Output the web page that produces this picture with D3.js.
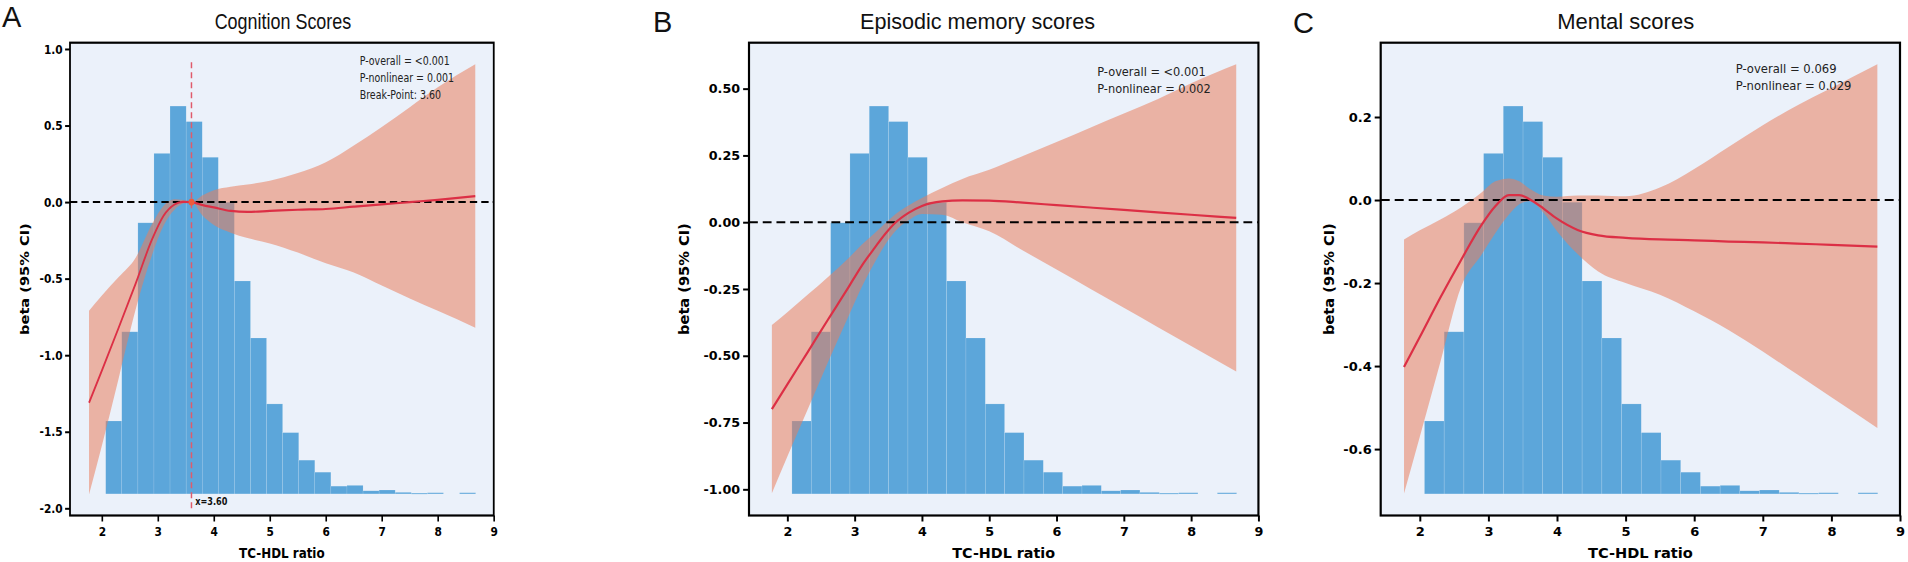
<!DOCTYPE html>
<html>
<head>
<meta charset="utf-8">
<script src="https://cdn.jsdelivr.net/npm/d3@7.9.0/dist/d3.min.js"></script>
<style>
  html, body { margin: 0; padding: 0; background: #fff; }
  svg { display: block; }
</style>
</head>
<body>
<svg id="chart" width="1908" height="562"></svg>
<script>
// --- DATA ---
const xGrid = [1.77, 2.0, 2.3, 2.6, 2.9, 3.1, 3.3, 3.45, 3.6, 3.8, 4.0, 4.3, 4.6, 5.0, 5.5, 6.0, 6.5, 7.0, 7.5, 8.0, 8.67];

const cognitionLine  = [-1.31, -1.10, -0.82, -0.535, -0.24, -0.09, -0.015, 0.002, 0, -0.02, -0.035, -0.058, -0.064, -0.058, -0.05, -0.045, -0.03, -0.015, 0.0, 0.015, 0.039];
const cognitionUpper = [-0.71, -0.61, -0.49, -0.365, -0.14, -0.025, 0.018, 0.014, 0, 0.045, 0.078, 0.10, 0.115, 0.14, 0.19, 0.26, 0.37, 0.49, 0.62, 0.75, 0.90];
const cognitionLower = [-1.91, -1.59, -1.15, -0.705, -0.34, -0.155, -0.048, -0.01, 0, -0.09, -0.15, -0.20, -0.235, -0.27, -0.33, -0.40, -0.46, -0.545, -0.63, -0.71, -0.82];

const episodicLine  = [-0.70, -0.607, -0.487, -0.366, -0.247, -0.165, -0.095, -0.045, -0.003, 0.035, 0.061, 0.078, 0.082, 0.081, 0.073, 0.064, 0.055, 0.046, 0.037, 0.028, 0.016];
const episodicUpper = [-0.385, -0.337, -0.272, -0.206, -0.137, -0.085, -0.04, -0.005, 0.029, 0.063, 0.091, 0.128, 0.162, 0.196, 0.248, 0.30, 0.354, 0.407, 0.46, 0.52, 0.591];
const episodicLower = [-1.015, -0.877, -0.702, -0.526, -0.357, -0.245, -0.15, -0.085, -0.035, 0.007, 0.031, 0.028, 0.0, -0.034, -0.106, -0.177, -0.249, -0.32, -0.392, -0.463, -0.559];

const mentalLine  = [-0.402, -0.33, -0.235, -0.145, -0.06, -0.015, 0.012, 0.012, 0.002, -0.02, -0.045, -0.072, -0.085, -0.091, -0.095, -0.097, -0.10, -0.102, -0.105, -0.108, -0.1125];
const mentalUpper = [-0.095, -0.073, -0.047, -0.018, 0.018, 0.045, 0.052, 0.045, 0.027, 0.011, 0.008, 0.011, 0.011, 0.009, 0.03, 0.075, 0.128, 0.18, 0.228, 0.27, 0.327];
const mentalLower = [-0.707, -0.57, -0.39, -0.21, -0.132, -0.08, -0.035, -0.01, -0.003, -0.03, -0.075, -0.13, -0.172, -0.2, -0.228, -0.268, -0.313, -0.365, -0.42, -0.475, -0.549];

// TC-HDL ratio histogram (same in all panels)
const histEdges  = [2.068, 2.355, 2.643, 2.930, 3.217, 3.505, 3.792, 4.079, 4.366, 4.654, 4.941, 5.228, 5.516, 5.803, 6.090, 6.378, 6.665, 6.952, 7.239, 7.527, 7.814, 8.101, 8.389, 8.676];
const histCounts = [188, 418, 699, 878, 1000, 960, 868, 752, 549, 402, 232, 158, 87, 56, 20, 22, 8, 10, 4, 2, 3, 0, 3];

const xTicks = [2, 3, 4, 5, 6, 7, 8, 9];
const cognitionTicks = [-2.0, -1.5, -1.0, -0.5, 0.0, 0.5, 1.0];
const episodicTicks  = [-1.00, -0.75, -0.50, -0.25, 0.00, 0.25, 0.50];
const mentalTicks    = [-0.6, -0.4, -0.2, 0.0, 0.2];

const titles  = ["Cognition Scores", "Episodic memory scores", "Mental scores"];
const letters = ["A", "B", "C"];
const cognitionNotes = ["P-overall = <0.001", "P-nonlinear = 0.001", "Break-Point: 3.60"];
const episodicNotes  = ["P-overall = <0.001", "P-nonlinear = 0.002"];
const mentalNotes    = ["P-overall = 0.069", "P-nonlinear = 0.029"];

const breakPoint = 3.60;
const breakLineSpan = [-2.011, 0.914];

// --- LAYOUT ---
const plotTop = 42.7, H = 472.8, W = 519.3;
const xDomain = [1.43, 9];

const panels = [
  { line: cognitionLine, upper: cognitionUpper, lower: cognitionLower, ticks: cognitionTicks, fmt: ".1f",
    notes: cognitionNotes, yDomain: [-2.047, 1.041], left: 70, sx: 0.816, titleX: 261,
    noteY: [65.2, 81.9, 99.2], yLabelX: -55, letterX: 2, letterY: 27, breakPoint: true },
  { line: episodicLine, upper: episodicUpper, lower: episodicLower, ticks: episodicTicks, fmt: ".2f",
    notes: episodicNotes, yDomain: [-1.098, 0.672], left: 749, sx: 0.981, titleX: 233,
    noteY: [75.9, 93.5], yLabelX: -66, letterX: 653, letterY: 32, breakPoint: false },
  { line: mentalLine, upper: mentalUpper, lower: mentalLower, ticks: mentalTicks, fmt: ".1f",
    notes: mentalNotes, yDomain: [-0.760, 0.379], left: 1380.7, sx: 1, titleX: 245,
    noteY: [73.5, 90.2], yLabelX: -52, letterX: 1293, letterY: 33, breakPoint: false }
];

const colors = {
  bg: "#EBF1FA",
  bar: "#5CA6DA",
  band: "rgb(233,126,92)",
  line: "#DC2F45",
  dot: "#EE5A3C"
};

const svg = d3.select("#chart");
const maxCount = d3.max(histCounts);

panels.forEach((p, i) => {
  // panel letter (outside the squeezed group)
  svg.append("text")
    .attr("x", p.letterX).attr("y", p.letterY)
    .attr("font-family", "Liberation Sans, Arial, sans-serif")
    .attr("font-size", 29)
    .attr("fill", "#111")
    .text(letters[i]);

  const g = svg.append("g")
    .attr("transform", `translate(${p.left},${plotTop}) scale(${p.sx},1)`);

  const x = d3.scaleLinear().domain(xDomain).range([0, W]);
  const y = d3.scaleLinear().domain(p.yDomain).range([H, 0]);
  // twin axis for the histogram
  const yHist = d3.scaleLinear().domain([-0.0557 * maxCount, 1.1634 * maxCount]).range([H, 0]);

  g.append("rect").attr("width", W).attr("height", H).attr("fill", colors.bg);

  // histogram
  g.append("g").selectAll("rect")
    .data(histCounts.map((c, k) => ({ c, x0: histEdges[k], x1: histEdges[k + 1] })).filter(d => d.c > 0))
    .join("rect")
    .attr("x", d => x(d.x0))
    .attr("width", d => x(d.x1) - x(d.x0))
    .attr("y", d => yHist(d.c))
    .attr("height", d => Math.max(1, yHist(0) - yHist(d.c)))
    .attr("fill", colors.bar)
    .attr("stroke", "rgba(255,255,255,0.22)")
    .attr("stroke-width", 0.6);

  const pts = xGrid.map((xv, k) => ({ x: xv, v: p.line[k], hi: p.upper[k], lo: p.lower[k] }));

  // confidence band
  const area = d3.area()
    .x(d => x(d.x)).y0(d => y(d.lo)).y1(d => y(d.hi))
    .curve(d3.curveMonotoneX);
  g.append("path").datum(pts)
    .attr("d", area)
    .attr("fill", colors.band)
    .attr("fill-opacity", 0.55);

  // reference line at 0
  g.append("line")
    .attr("x1", 0).attr("x2", W)
    .attr("y1", y(0)).attr("y2", y(0))
    .attr("stroke", "#000").attr("stroke-width", 2)
    .attr("stroke-dasharray", "9,5");

  // fitted curve
  const line = d3.line().x(d => x(d.x)).y(d => y(d.v)).curve(d3.curveMonotoneX);
  g.append("path").datum(pts)
    .attr("d", line)
    .attr("fill", "none")
    .attr("stroke", colors.line)
    .attr("stroke-width", 2.2);

  if (p.breakPoint) {
    g.append("line")
      .attr("x1", x(breakPoint)).attr("x2", x(breakPoint))
      .attr("y1", y(breakLineSpan[1])).attr("y2", y(breakLineSpan[0]))
      .attr("stroke", "#E05A6A").attr("stroke-width", 1.8)
      .attr("stroke-dasharray", "6,4");
    g.append("circle")
      .attr("cx", x(breakPoint)).attr("cy", y(0)).attr("r", 3.6)
      .attr("fill", colors.dot);
    g.append("text")
      .attr("x", x(breakPoint) + 4.5).attr("y", 505.5 - plotTop)
      .attr("font-family", "DejaVu Sans, sans-serif")
      .attr("font-weight", "bold").attr("font-size", 10)
      .attr("fill", "#111")
      .text(`x=${breakPoint.toFixed(2)}`);
  }

  // annotations
  p.notes.forEach((t, k) => {
    g.append("text")
      .attr("x", 355).attr("y", p.noteY[k] - plotTop)
      .attr("font-family", "DejaVu Sans, sans-serif")
      .attr("font-size", 11.6)
      .attr("fill", "#222")
      .text(t);
  });

  // axes
  const fmt = d3.format(p.fmt);
  const yAxis = d3.axisLeft(y).tickValues(p.ticks)
    .tickFormat(d => fmt(d).replace("\u2212", "-"))
    .tickSize(6).tickPadding(3);
  const xAxis = d3.axisBottom(x).tickValues(xTicks)
    .tickFormat(d3.format("d"))
    .tickSize(6).tickPadding(5.3);

  const ya = g.append("g").call(yAxis);
  const xa = g.append("g").attr("transform", `translate(0,${H})`).call(xAxis);
  [ya, xa].forEach(a => {
    a.select(".domain").remove();
    a.selectAll(".tick line").attr("stroke", "#000").attr("stroke-width", 2);
    a.selectAll(".tick text")
      .attr("font-family", "DejaVu Sans, sans-serif")
      .attr("font-weight", "bold")
      .attr("font-size", 13)
      .attr("fill", "#000");
  });

  // spines
  g.append("rect").attr("width", W).attr("height", H)
    .attr("fill", "none").attr("stroke", "#000").attr("stroke-width", 2.2);

  // labels
  g.append("text")
    .attr("x", W / 2).attr("y", H + 42.5)
    .attr("text-anchor", "middle")
    .attr("font-family", "DejaVu Sans, sans-serif")
    .attr("font-weight", "bold").attr("font-size", 14.6)
    .text("TC-HDL ratio");

  g.append("text")
    .attr("transform", `translate(${p.yLabelX},${H / 2}) rotate(-90)`)
    .attr("text-anchor", "middle")
    .attr("dy", "0.35em")
    .attr("font-family", "DejaVu Sans, sans-serif")
    .attr("font-weight", "bold").attr("font-size", 14.6)
    .text("beta (95% CI)");

  g.append("text")
    .attr("x", p.titleX).attr("y", 28.5 - plotTop)
    .attr("text-anchor", "middle")
    .attr("font-family", "Liberation Sans, Arial, sans-serif")
    .attr("font-size", 22)
    .attr("fill", "#111")
    .text(titles[i]);
});
</script>
</body>
</html>
